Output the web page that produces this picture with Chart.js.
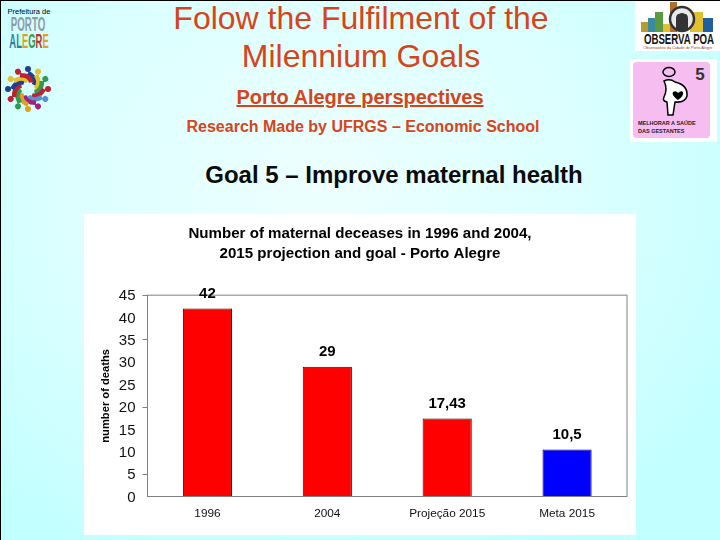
<!DOCTYPE html>
<html>
<head>
<meta charset="utf-8">
<title>Goal 5</title>
<script src="https://cdn.jsdelivr.net/npm/chart.js@4"></script>
<style>
html, body { margin: 0; padding: 0; }
body {
  width: 720px; height: 540px; overflow: hidden; position: relative;
  font-family: "Liberation Sans", Arial, sans-serif; color: #000;
  background: radial-gradient(ellipse 480px 420px at 320px 190px, #eeffff 0%, #dcffff 55%, #c2ffff 100%);
  border-top: 1px solid #000; border-left: 1px solid #000; box-sizing: border-box;
}
.txt { position: absolute; white-space: nowrap; transform: translateX(-50%); }
#panel { position: absolute; left: 83px; top: 213px; width: 552px; height: 321px; background: #fff; }
#panel canvas { display: block; }
svg { position: absolute; }
</style>
</head>
<body>
<div class="txt" style="left:360px;top:-2px;font-size:32px;line-height:38px;text-align:center;color:#d8441a">Folow the Fulfilment of the<br>Milennium Goals</div>
<div class="txt" style="left:359px;top:85px;font-size:20px;font-weight:bold;text-decoration:underline;color:#d8441a">Porto Alegre perspectives</div>
<div class="txt" style="left:362px;top:117px;font-size:16px;font-weight:bold;color:#d8441a">Research Made by UFRGS – Economic School</div>
<div class="txt" style="left:393px;top:160px;font-size:24px;font-weight:bold;color:#0a0a0a">Goal 5 – Improve maternal health</div>

<!-- logos, left -->
<div class="txt" style="left:28px;top:6px;font-size:7.5px;line-height:9px">Prefeitura de</div>
<div class="txt" style="left:27px;top:13px;font-size:19.5px;line-height:20px;font-weight:bold;color:#8f9aa5;transform:translateX(-50%) scaleX(.5)">PORTO</div>
<div class="txt" style="left:28px;top:29px;font-size:21px;line-height:21px;font-weight:bold;color:#2a7fa8;transform:translateX(-50%) scaleX(.45)">AL<span style="color:#e2a020">E</span><span style="color:#3a9a50">G</span><span style="color:#c03030">R</span><span style="color:#e2a020">E</span></div>
<svg style="left:3px;top:64px" width="48" height="48" viewBox="-24 -24 48 48" id="flor"></svg>

<!-- logos, right -->
<div style="position:absolute;left:634px;top:-1px;width:86px;height:51px;background:#fff"></div>
<svg style="left:639px;top:-1px" width="76" height="34" viewBox="0 0 76 34">
  <rect x="1" y="22" width="7" height="10" fill="#b89a30"/>
  <rect x="8" y="18" width="7" height="14" fill="#3a8aa0"/>
  <rect x="15" y="12" width="8" height="20" fill="#5a9a40"/>
  <rect x="23" y="24" width="7" height="8" fill="#e0c030"/>
  <rect x="30" y="2" width="7" height="30" fill="#b0702a"/>
  <rect x="50" y="12" width="13" height="20" fill="#e0c030"/>
  <rect x="63" y="18" width="10" height="14" fill="#1f5fa0"/>
  <circle cx="42" cy="19" r="12" fill="#e8e8e8" stroke="#333" stroke-width="2.5"/>
  <path d="M36 30 V19 Q36 14 39 14 Q42 12 45 14 Q48 14 48 19 V30 Z" fill="#333"/>
</svg>
<div class="txt" style="left:678px;top:30px;font-size:14px;font-weight:bold;color:#111;transform:translateX(-50%) scaleX(.69)">OBSERVA POA</div>
<div class="txt" style="left:677px;top:44px;font-size:3.9px;color:#a04020">Observatório da Cidade de Porto Alegre</div>

<div style="position:absolute;left:629px;top:58px;width:87px;height:83px;background:#fff"></div>
<div style="position:absolute;left:632px;top:61px;width:77px;height:76px;background:#f5bdf0;border-radius:4px"></div>
<svg style="left:657px;top:65px" width="34" height="52" viewBox="0 0 34 52">
  <ellipse cx="11" cy="6" rx="6" ry="4.5" fill="#f5bdf0" stroke="#000" stroke-width="1.5"/>
  <path d="M6 15 Q12 12 17 16 Q30 19 29 30 Q27 37 17 36 L15 49 L10 49 L9 36 Q4 35 6 31 Q10 23 6 15 Z" fill="#fff" stroke="#000" stroke-width="1.5"/>
  <path d="M20 34 Q13 29 15 26 Q18 24 20 27 Q23 24 25 26 Q26 30 20 34 Z" fill="#000"/>
</svg>
<div class="txt" style="left:699px;top:64px;font-size:17px;font-weight:bold;color:#333">5</div>
<div style="position:absolute;left:637px;top:118px;font-size:5.5px;line-height:8px;font-weight:bold;color:#222;white-space:nowrap">MELHORAR A SAÚDE<br>DAS GESTANTES</div>

<div id="panel"><canvas id="grafico" width="552" height="321"></canvas></div>

<script>
// dados do gráfico
const categorias = ["1996", "2004", "Projeção 2015", "Meta 2015"];
const obitos = [42, 29, 17.43, 10.5];
const rotulos = ["42", "29", "17,43", "10,5"];
const coresBarra = ["#ff0000", "#ff0000", "#ff0000", "#0000ff"];
const bordasBarra = ["#3a0000", "#3a0000", "#3a0000", "#000060"];
const ticksComMarca = [45, 35, 20, 5];
const tituloGrafico = ["Number of maternal deceases in 1996 and 2004,", "2015 projection and goal - Porto Alegre"];

// flor colorida do logo
const coresFlor = ["#1f3f8f", "#e2c030", "#2f9a50", "#c02030", "#5a8fd0", "#a02080", "#e2a020", "#2f9a50", "#c02030", "#1f3f8f", "#e2c030", "#c02030"];
var flor = "";
coresFlor.forEach(function (cor, i) {
  var a = i * 30;
  flor += '<g transform="rotate(' + a + ')"><circle cx="0" cy="-20" r="3" fill="' + cor + '"/>' +
    '<path d="M0 -16 Q9 -11 6 -4" stroke="' + cor + '" stroke-width="4.5" fill="none"/></g>';
});
document.getElementById("flor").innerHTML = flor;

// moldura cinza e rótulos das barras
const moldura = {
  id: "moldura",
  afterDatasetsDraw(chart) {
    const a = chart.chartArea, ctx = chart.ctx;
    ctx.save();
    ctx.strokeStyle = "#808080";
    ctx.lineWidth = 1;
    ctx.strokeRect(a.left, a.top, a.right - a.left, a.bottom - a.top);
    ctx.font = "bold 15px 'Liberation Sans', Arial";
    ctx.fillStyle = "#000";
    ctx.textAlign = "center";
    ctx.textBaseline = "middle";
    chart.getDatasetMeta(0).data.forEach(function (bar, i) {
      ctx.fillText(rotulos[i], bar.x, bar.y - 15);
    });
    ctx.restore();
  }
};

new Chart(document.getElementById("grafico"), {
  type: "bar",
  data: {
    labels: categorias,
    datasets: [{
      data: obitos,
      backgroundColor: coresBarra,
      borderColor: bordasBarra,
      borderWidth: 1,
      categoryPercentage: 1,
      barPercentage: 0.41
    }]
  },
  plugins: [moldura],
  options: {
    responsive: false,
    animation: false,
    layout: { padding: { left: 9, right: 9, top: 0, bottom: 0 } },
    plugins: {
      legend: { display: false },
      tooltip: { enabled: false },
      title: {
        display: true,
        text: tituloGrafico,
        color: "#000",
        font: { family: "'Liberation Sans', Arial", size: 15.1, weight: "bold", lineHeight: 1.33 },
        padding: { top: 10, bottom: 31 }
      }
    },
    scales: {
      x: {
        grid: { display: false },
        border: { display: false },
        afterFit: function (s) { s.height = 38.5; },
        ticks: { color: "#111", font: { family: "'Liberation Sans', Arial", size: 11.8 }, padding: 2, maxRotation: 0 }
      },
      y: {
        min: 0,
        max: 45,
        afterFit: function (s) { s.width = 54.5; },
        title: {
          display: true,
          text: "number of deaths",
          color: "#000",
          font: { family: "'Liberation Sans', Arial", size: 11.2, weight: "bold" },
          padding: { top: 6, bottom: 0 }
        },
        border: { display: false },
        grid: {
          drawOnChartArea: false,
          tickLength: 5,
          tickColor: function (c) {
            return ticksComMarca.indexOf(c.tick.value) >= 0 ? "#808080" : "rgba(0,0,0,0)";
          }
        },
        ticks: { stepSize: 5, color: "#111", font: { family: "'Liberation Sans', Arial", size: 15 }, padding: 7, labelOffset: 1 }
      }
    }
  }
});
</script>
</body>
</html>
